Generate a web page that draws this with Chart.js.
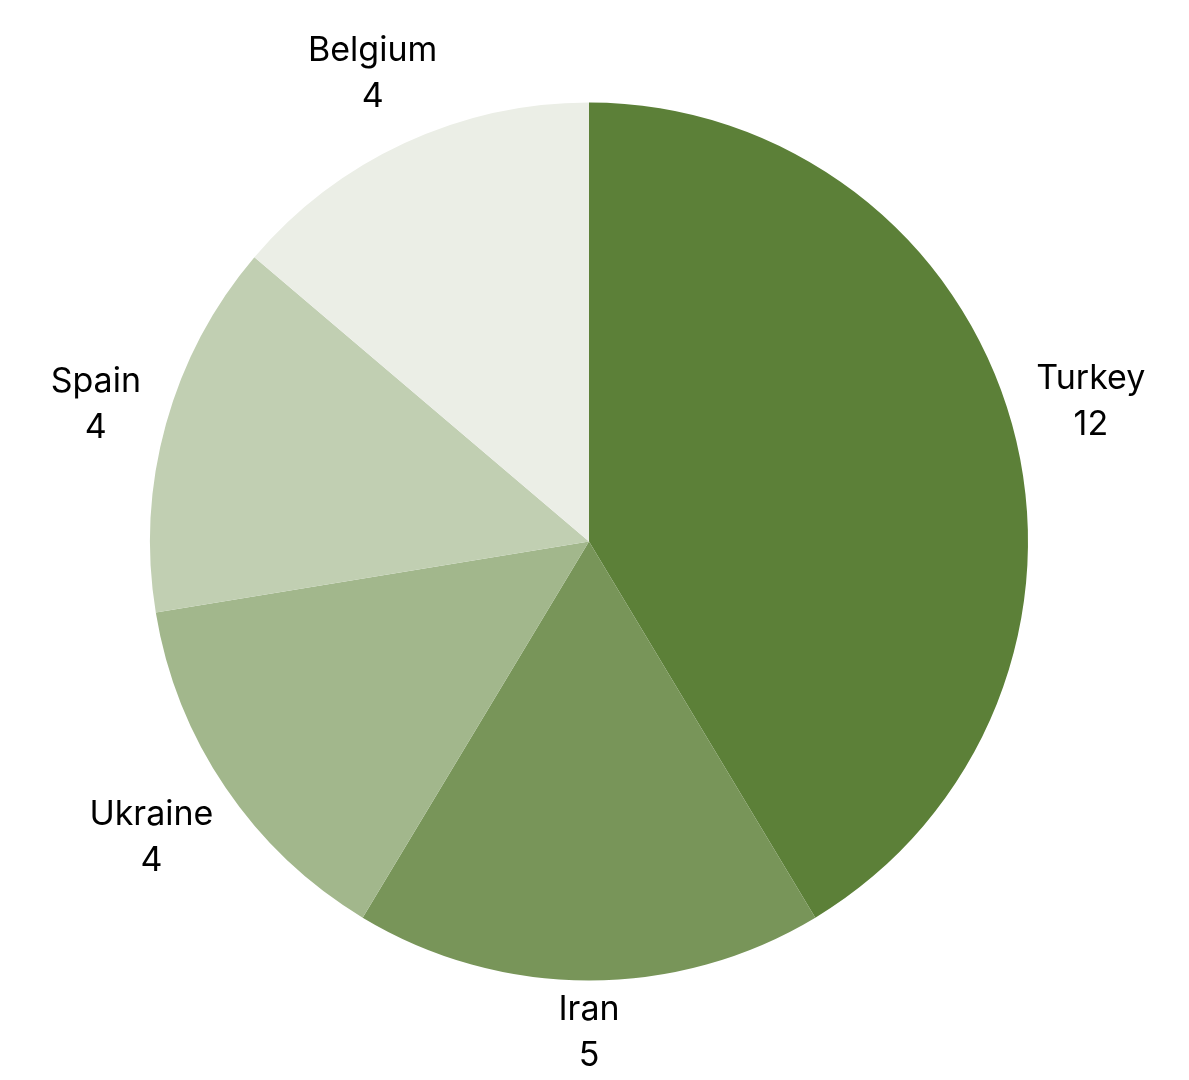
<!DOCTYPE html>
<html>
<head>
<meta charset="utf-8">
<script src="https://cdn.jsdelivr.net/npm/chart.js@4"></script>
<style>
  html, body { margin: 0; padding: 0; background: #ffffff; }
  #wrap { width: 1189px; height: 1080px; }
</style>
</head>
<body>
<div id="wrap"><canvas id="pieChart"></canvas></div>
<script>
const countries = ['Turkey', 'Iran', 'Ukraine', 'Spain', 'Belgium'];
const counts = [12, 5, 4, 4, 4];
const sliceColors = ['#5c8038', '#789559', '#a2b78c', '#c1cfb2', '#ebeee6'];

// Draws "name / value" outside each slice
const outsideLabels = {
  id: 'outsideLabels',
  afterDatasetsDraw(chart) {
    const ctx = chart.ctx;
    const meta = chart.getDatasetMeta(0);
    const lineH = 46;
    ctx.save();
    ctx.font = '34px Inter';
    ctx.fillStyle = '#000000';
    ctx.textAlign = 'center';
    ctx.textBaseline = 'middle';
    meta.data.forEach((arc, i) => {
      const p = arc.getProps(['x', 'y', 'startAngle', 'endAngle', 'outerRadius'], true);
      const mid = (p.startAngle + p.endAngle) / 2;
      const cx = Math.cos(mid), cy = Math.sin(mid);
      const name = countries[i];
      const val = String(counts[i]);
      const halfW = Math.max(ctx.measureText(name).width, ctx.measureText(val).width) / 2;
      const halfH = lineH / 2 + 8;
      const dist = p.outerRadius + 21 + Math.abs(cx) * halfW + Math.abs(cy) * halfH;
      const lx = p.x + cx * dist;
      const ly = p.y + cy * dist;
      ctx.fillText(name, lx, ly - lineH / 2);
      ctx.fillText(val, lx, ly + lineH / 2);
    });
    ctx.restore();
  }
};

new Chart(document.getElementById('pieChart').getContext('2d'), {
  type: 'pie',
  data: {
    labels: countries,
    datasets: [{
      data: counts,
      backgroundColor: sliceColors,
      borderWidth: 0
    }]
  },
  options: {
    responsive: true,
    maintainAspectRatio: false,
    animation: false,
    layout: { padding: { top: 102, bottom: 99, left: 150, right: 161 } },
    plugins: {
      legend: { display: false },
      tooltip: { enabled: false }
    }
  },
  plugins: [outsideLabels]
});
</script>
</body>
</html>
